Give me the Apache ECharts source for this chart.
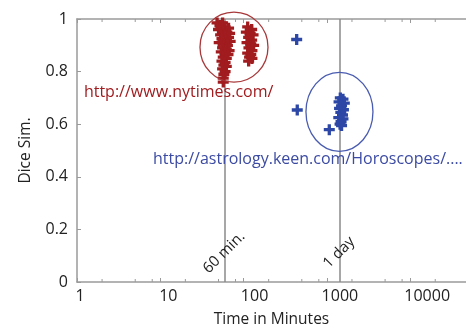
<!DOCTYPE html>
<html><head><meta charset="utf-8">
<script src="https://cdn.jsdelivr.net/npm/echarts@6/dist/echarts.min.js"></script>
<style>html,body{margin:0;padding:0;background:#fff}#c{width:466px;height:333px}</style>
</head><body><div id="c"></div>
<script>
// ---- data ----
const xTickLabels = ['1', '10', '100', '1000', '10000'];
const yTickLabels = ['0', '0.2', '0.4', '0.6', '0.8', '1'];
const xMinorMultiples = [2, 5, 8];

const nytimesPoints = [
  [48,0.985],[56,0.985],[52,0.975],[60,0.97],[66,0.965],[50,0.96],[57,0.955],[63,0.95],
  [68,0.945],[53,0.94],[60,0.935],[66,0.93],[55,0.925],[62,0.92],[69,0.915],[51,0.91],
  [58,0.905],[64,0.9],[56,0.89],[62,0.885],[67,0.88],[54,0.875],[60,0.87],[65,0.865],
  [57,0.855],[62,0.85],[55,0.84],[60,0.835],[58,0.825],[62,0.82],[56,0.81],[60,0.80],
  [58,0.79],[57,0.775],[57,0.76],
  [112,0.97],[125,0.96],[108,0.95],[120,0.945],[130,0.94],[115,0.93],[125,0.92],[110,0.91],
  [122,0.905],[132,0.9],[116,0.89],[126,0.88],[112,0.87],[122,0.865],[118,0.855],[126,0.85],[115,0.84]
];
const astrologyPoints = [
  [434,0.922],[441,0.654],[1069,0.579],
  [1450,0.70],[1560,0.695],[1400,0.685],[1620,0.68],[1500,0.67],[1420,0.66],[1580,0.655],
  [1470,0.645],[1540,0.635],[1390,0.625],[1560,0.62],[1480,0.61],[1440,0.60],[1500,0.595]
];
const refLineValues = [60, 1440];
const refLineLabels = ['60 min.', '1 day'];
const annotationTexts = ['http://www.nytimes.com/', 'http://astrology.keen.com/Horoscopes/....'];
const annotationAnchors = [[1.21, 0.72], [8.17, 0.465]];
const ellipseCenters = [[76.7, 0.893], [1416, 0.647]];

// ---- styles ----
const RED = '#a11c1f', BLUE = '#2c47a6', AXIS = '#9a9a9a', FONT = '"Open Sans", sans-serif';
const plusPath = 'path://M3.5,0h3v3.5h3.5v3h-3.5v3.5h-3v-3.5h-3.5v-3h3.5z';
const xMax = 46800;
const xLabelShift = [3, 8, 11, 13, 17];

const rich = {};
xLabelShift.forEach((s, i) => {
  rich['a' + i] = { padding: [0, 0, 0, 2 * s], fontFamily: FONT, fontSize: 16, color: '#222' };
});
function xLabel(v) {
  const l = Math.log10(v);
  if (Math.abs(l - Math.round(l)) > 1e-6) return '';
  const k = Math.round(l);
  return xTickLabels[k] ? '{a' + k + '|' + xTickLabels[k] + '}' : '';
}

const chart = echarts.init(document.getElementById('c'));
chart.setOption({
  animation: false,
  grid: { left: 77, right: 0, top: 19, bottom: 48 },
  xAxis: [{
    type: 'log', logBase: 10, min: 1, max: xMax, splitNumber: 5,
    name: 'Time in Minutes', nameLocation: 'middle', nameGap: 30,
    nameTextStyle: { fontFamily: FONT, fontSize: 15.5, color: '#222' },
    axisLine: { lineStyle: { color: AXIS, width: 1.5 } },
    axisTick: { inside: true, length: 4, lineStyle: { color: AXIS } },
    axisLabel: { formatter: xLabel, rich: rich, align: 'center', margin: 6, fontFamily: FONT, fontSize: 16, color: '#222', showMaxLabel: false },
    splitLine: { show: false }
  }, {
    type: 'log', logBase: 10, min: 1, max: xMax, splitNumber: 5, position: 'top',
    axisLine: { lineStyle: { color: AXIS, width: 1.5 } },
    axisTick: { inside: true, length: 4, lineStyle: { color: AXIS } },
    axisLabel: { show: false }, splitLine: { show: false }
  }],
  yAxis: {
    type: 'value', min: 0, max: 1, interval: 0.2,
    name: 'Dice Sim.', nameLocation: 'middle', nameGap: 43,
    nameTextStyle: { fontFamily: FONT, fontSize: 15.5, color: '#222' },
    axisLine: { show: true, lineStyle: { color: AXIS, width: 1.5 } },
    axisTick: { inside: true, length: 4, lineStyle: { color: AXIS } },
    axisLabel: { formatter: (v) => yTickLabels[Math.round(v / 0.2)], margin: 9, fontFamily: FONT, fontSize: 16, color: '#222' },
    splitLine: { show: false }
  },
  series: [{
    type: 'scatter', data: nytimesPoints, symbol: plusPath, symbolSize: 11,
    itemStyle: { color: RED, opacity: 1 }, z: 3,
    markLine: {
      silent: true, symbol: 'none', label: { show: false },
      lineStyle: { color: '#8a8a8a', width: 1.5, type: 'solid' },
      data: refLineValues.map(v => ({ xAxis: v })), z: 1
    }
  }, {
    type: 'scatter', data: astrologyPoints, symbol: plusPath, symbolSize: 11,
    itemStyle: { color: BLUE, opacity: 1 }, z: 3
  }]
});

function px(pt) { return chart.convertToPixel({ gridIndex: 0 }, pt); }
const graphics = [];
const y0 = px([1, 0])[1], y1 = px([1, 1])[1];
for (let k = 0; k < 5; k++) {
  xMinorMultiples.forEach(m => {
    const v = m * Math.pow(10, k);
    if (v >= xMax) return;
    const x = px([v, 0])[0];
    graphics.push({ type: 'line', shape: { x1: x, y1: y0, x2: x, y2: y0 - 3 }, style: { stroke: AXIS, lineWidth: 1 } });
    graphics.push({ type: 'line', shape: { x1: x, y1: y1, x2: x, y2: y1 + 3 }, style: { stroke: AXIS, lineWidth: 1 } });
  });
}
const ellipseRadii = [[34, 35], [33.5, 39.5]];
const ellipseColors = ['#a8383a', '#4a5cb0'];
ellipseCenters.forEach((c, i) => {
  const p = px(c);
  graphics.push({ type: 'ellipse', shape: { cx: p[0], cy: p[1], rx: ellipseRadii[i][0], ry: ellipseRadii[i][1] },
    style: { fill: 'none', stroke: ellipseColors[i], lineWidth: 1.3 }, z: 10 });
});
const annColors = [RED, '#3b4aa3'];
annotationTexts.forEach((t, i) => {
  const p = px(annotationAnchors[i]);
  graphics.push({ type: 'text', x: p[0], y: p[1], z: 10,
    style: { text: t, fill: annColors[i], font: '16px ' + FONT, textAlign: 'left', textVerticalAlign: 'middle' } });
});
refLineValues.forEach((v, i) => {
  const p = px([v, 0.112]);
  graphics.push({ type: 'text', x: p[0] - 1, y: p[1], rotation: Math.PI / 4, z: 10,
    style: { text: refLineLabels[i], fill: '#222', font: '15px ' + FONT, textAlign: 'center', textVerticalAlign: 'middle' } });
});
chart.setOption({ graphic: graphics });
</script></body></html>
